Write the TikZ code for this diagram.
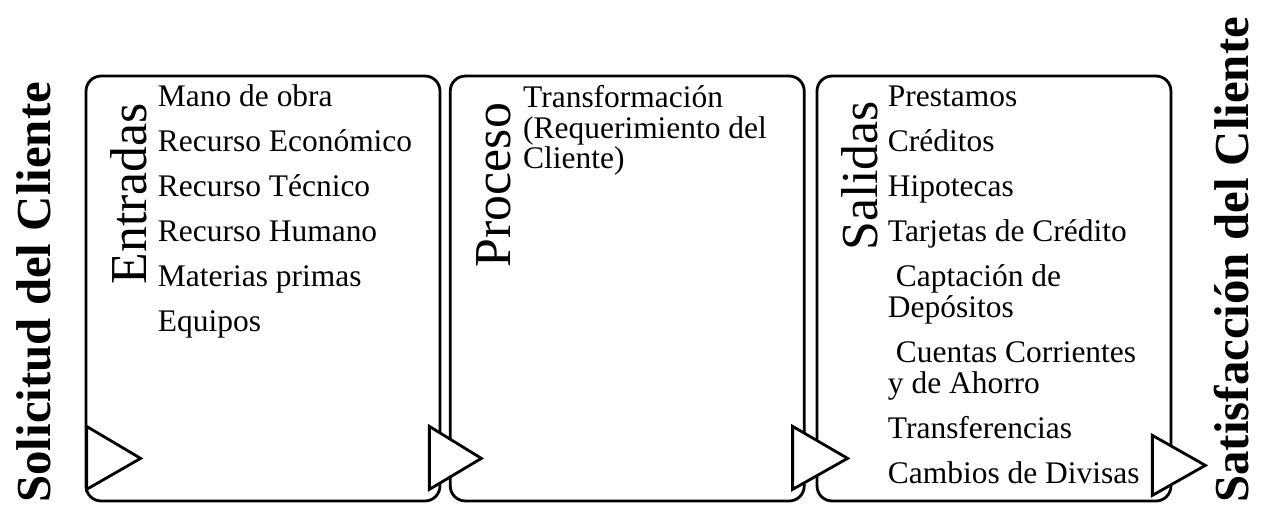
\documentclass[tikz,border=0pt]{standalone}
\usepackage{fontspec}
\setmainfont{Liberation Serif}
\usetikzlibrary{positioning, calc}

\begin{document}
\begin{tikzpicture}[x=0.02cm, y=-0.02cm,
        panel/.style={rectangle, draw, line width=1.6pt, rounded corners=0.3cm, minimum width=7.08cm, minimum height=8.5cm, inner sep=0},
        chevron/.style={draw, fill=white, line width=1.6pt, line join=miter},
        heading/.style={rotate=90, inner sep=0, anchor=base east, font=\fontsize{29.5}{29.5}\selectfont},
        client/.style={rotate=90, inner sep=0, anchor=base west, font=\fontsize{27.8}{27.8}\bfseries},
        items/.style={anchor=north west, align=left, inner sep=0, font=\fontsize{17.9}{17.6}\selectfont}]

    \useasboundingbox (0,0) rectangle (1263,504);

    % Boxes
    \node[panel] (entradas) at (263,288.5) {};
    \node[panel, right=0.15cm of entradas] (proceso) {};
    \node[panel, right=0.2cm of proceso] (salidas) {};

    % Headings
    \node[heading] (entradasT) at ($(entradas.north west)+(62,28)$) {Entradas};
    \node[heading] (procesoT) at ($(proceso.north west)+(62,28)$) {Proceso};
    \node[heading] (salidasT) at ($(salidas.north west)+(62,26)$) {Salidas};

    % Item lists
    \node[items] (entradasL) at ($(entradas.north west)+(73,10)$) {Mano de obra\\[8pt]Recurso Económico\\[8pt]Recurso Técnico\\[8pt]Recurso Humano\\[8pt]Materias primas\\[8pt]Equipos};
    \node[items] (procesoL) at ($(proceso.north west)+(74,10)$) {Transformación\\(Requerimiento del\\Cliente)};
    \node[items] (salidasL) at ($(salidas.north west)+(72,11)$) {Prestamos\\[8pt]Créditos\\[8pt]Hipotecas\\[8pt]Tarjetas de Crédito\\[8pt]\hspace*{0.16cm}Captación de\\Depósitos\\[8pt]\hspace*{0.16cm}Cuentas Corrientes\\y de Ahorro\\[8pt]Transferencias\\[8pt]Cambios de Divisas};

    % Client
    \node[client] (solicitud) at (50,503) {Solicitud del Cliente};
    \node[client] (satisfaccion) at (1248,503) {Satisfacción del Cliente};

    % Chevrons
    \draw[chevron] ($(entradas.south west)+(2,-76)$) -- ++(54,32) -- ++(-54,31) -- cycle;
    \draw[chevron] ($(entradas.south east)+(-12,-76)$) -- ++(52,32) -- ++(-52,31) -- cycle;
    \draw[chevron] ($(proceso.south east)+(-13,-76)$) -- ++(55,32) -- ++(-55,31) -- cycle;
    \draw[chevron] ($(salidas.south east)+(-20,-67)$) -- ++(53,30) -- ++(-53,30) -- cycle;

\end{tikzpicture}
\end{document}
